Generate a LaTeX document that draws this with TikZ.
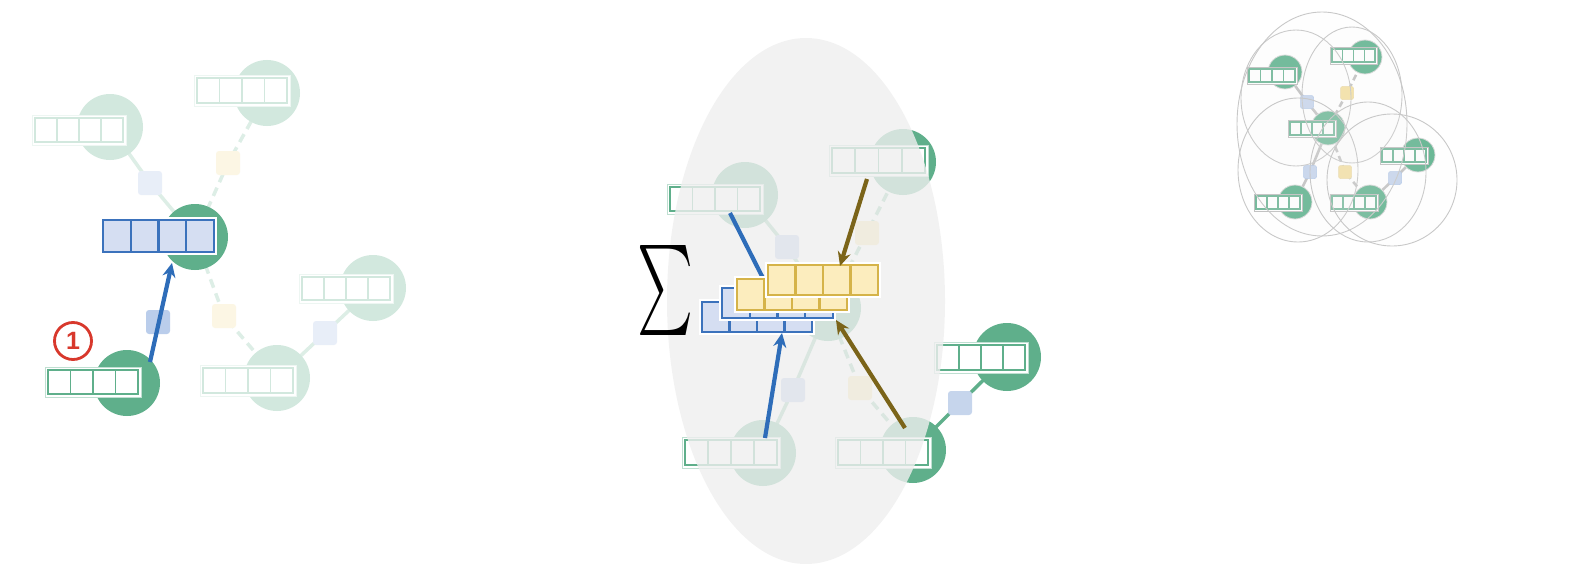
\documentclass[tikz,border=0pt]{standalone}
\usepackage{graphicx}
\usepackage{fontspec}
\newfontfamily\numfont{Liberation Sans}
\usetikzlibrary{arrows.meta}
\definecolor{gD}{HTML}{5FAF8B}
\definecolor{gR}{HTML}{62B490}
\definecolor{eG}{HTML}{86C2A6}
\definecolor{eR}{HTML}{C2C2C2}
\definecolor{bB}{HTML}{3B72BC}
\definecolor{bF}{HTML}{D5DEF2}
\definecolor{bA}{HTML}{2E6DB9}
\definecolor{yB}{HTML}{D5B349}
\definecolor{yF}{HTML}{FCEDBE}
\definecolor{brA}{HTML}{7B6419}
\definecolor{rd}{HTML}{D8382C}
\definecolor{sqB}{HTML}{AFC5E8}
\definecolor{sqBl}{HTML}{C6D5EC}
\definecolor{sqY}{HTML}{F6E2A0}
\definecolor{ellF}{HTML}{EFEFEF}
\definecolor{ellL}{HTML}{C8C8C8}

\newcommand{\vecbar}[7]{%
  \draw[#5] (#1,#2) rectangle (#3,#4);
  \pgfmathsetmacro\vxa{#1+#7}%
  \pgfmathsetmacro\vxb{#3-#7}%
  \pgfmathsetmacro\vya{#2+#7}%
  \pgfmathsetmacro\vyb{#4-#7}%
  \pgfmathsetmacro\vw{(\vxb-\vxa)/4}%
  \foreach \k in {0,1,2,3}{\draw[#6] ({\vxa+\k*\vw},\vya) rectangle ({\vxa+(\k+1)*\vw},\vyb);}%
}

\begin{document}
\begin{tikzpicture}[x=1pt,y=-1pt,
  gc/.style={circle, fill=gD, inner sep=0pt, minimum size=66pt},
  gcs/.style={circle, fill=gR, draw=gray!30, line width=0.8pt, inner sep=0pt, minimum size=34pt},
  edgeS/.style={draw=eG, line width=3.5pt},
  edgeD/.style={draw=eG, line width=3.5pt, dash pattern=on 9pt off 6pt},
  redgeS/.style={draw=eR, line width=2.6pt},
  redgeD/.style={draw=eR, line width=2.6pt, dash pattern=on 6pt off 4pt},
  bsq/.style={rectangle, rounded corners=3pt, fill=sqB, minimum size=24pt, inner sep=0pt},
  ysq/.style={rectangle, rounded corners=3pt, fill=sqY, minimum size=24pt, inner sep=0pt},
  rbsq/.style={rectangle, rounded corners=2pt, fill=sqBl, draw=sqB, line width=0.5pt, minimum size=13pt, inner sep=0pt},
  rysq/.style={rectangle, rounded corners=2pt, fill=sqY, draw=yB!50, line width=0.5pt, minimum size=13pt, inner sep=0pt},
  gframe/.style={fill=white, draw=gD!40, line width=0.8pt},
  wframe/.style={fill=white, draw=none},
  rframe/.style={fill=white, draw=gray!50, line width=0.8pt},
  gcell/.style={draw=gD, line width=1.8pt, fill=white},
  rcell/.style={draw=gD!90, line width=1.1pt, fill=white},
  bcell/.style={draw=bB, line width=2.2pt, fill=bF},
  ycell/.style={draw=yB, line width=2.1pt, fill=yF},
  barrow/.style={draw=bA, line width=4.2pt, -{Stealth[length=14pt,width=13pt]}},
  brarrow/.style={draw=brA, line width=4.2pt, -{Stealth[length=14pt,width=13pt]}},
  rellipse/.style={draw=ellL, line width=0.9pt, fill=ellF, fill opacity=0.07}
]
\useasboundingbox (0,0) rectangle (1572,578);

%================ LEFT PANEL =================
\coordinate (L0) at (127,383);
\coordinate (L1) at (195,237);
\coordinate (L2) at (110,127);
\coordinate (L3) at (267,93);
\coordinate (L4) at (373,288);
\coordinate (L5) at (277,378);
\coordinate (Ls2) at (150,183);
\coordinate (Ls3) at (228,163);
\coordinate (Ls5) at (224,316);
\coordinate (Ls45) at (325,333);
\coordinate (Ls0) at (158,322);

\draw[edgeS] (L1) -- (Ls2) -- (L2);
\draw[edgeD] (L1) -- (Ls3) -- (L3);
\draw[edgeD] (L1) -- (Ls5) -- (L5);
\draw[edgeS] (L5) -- (Ls45) -- (L4);
\node[bsq] (Lq2) at (Ls2) {};
\node[ysq] (Lq3) at (Ls3) {};
\node[ysq] (Lq5) at (Ls5) {};
\node[bsq] (Lq45) at (Ls45) {};

\node[gc] (L2c) at (L2) {};
\node[gc] (L3c) at (L3) {};
\node[gc] (L4c) at (L4) {};
\node[gc] (L5c) at (L5) {};
\vecbar{32}{115}{126}{145}{gframe}{gcell}{3}
\vecbar{194}{75}{290}{106}{gframe}{gcell}{3}
\vecbar{299}{274}{393}{303}{gframe}{gcell}{3}
\vecbar{200}{365}{296}{396}{gframe}{gcell}{3}

% fading veil
\fill[white, opacity=0.72] (15,45) rectangle (440,430);

% bright items
\node[gc] (L1c) at (L1) {};
\node[gc] (L0c) at (L0) {};
\vecbar{100}{217}{217}{255}{wframe}{bcell}{3}
\vecbar{45}{367}{141}{397}{gframe}{gcell}{3}
\node[bsq, opacity=0.85] (Lq0) at (Ls0) {};
\coordinate (La0) at (150,362);
\coordinate (La1) at (172,263);
\draw[barrow] (La0) -- (La1);
\node[circle, draw=rd, line width=2.8pt, minimum size=37pt, inner sep=0pt, text=rd,
  font=\numfont\bfseries\fontsize{25}{25}\selectfont] (one) at (73,341) {1};

%================ MIDDLE PANEL =================
\coordinate (M0) at (828,308);
\coordinate (M1) at (745,195);
\coordinate (M2) at (903,162);
\coordinate (M3) at (763,453);
\coordinate (M4) at (913,450);
\coordinate (M5) at (1007,357);
\coordinate (Ms1) at (787,247);
\coordinate (Ms2) at (867,233);
\coordinate (Ms3) at (793,390);
\coordinate (Ms4) at (860,388);
\coordinate (Ms5) at (960,403);

\draw[edgeS] (M0) -- (Ms1) -- (M1);
\draw[edgeD] (M0) -- (Ms2) -- (M2);
\draw[edgeS] (M0) -- (Ms3) -- (M3);
\draw[edgeD] (M0) -- (Ms4) -- (M4);
\draw[edgeS, draw=gD] (M4) -- (Ms5) -- (M5);
\node[bsq] (Mq1) at (Ms1) {};
\node[ysq] (Mq2) at (Ms2) {};
\node[bsq] (Mq3) at (Ms3) {};
\node[ysq] (Mq4) at (Ms4) {};
\node[bsq, fill=sqBl] (Mq5) at (Ms5) {};

\node[gc] (M0c) at (M0) {};
\node[gc] (M1c) at (M1) {};
\node[gc] (M2c) at (M2) {};
\node[gc] (M3c) at (M3) {};
\node[gc] (M4c) at (M4) {};
\node[gc, minimum size=68pt] (M5c) at (M5) {};
\vecbar{667}{184}{763}{214}{gframe}{gcell}{3}
\vecbar{829}{145}{928}{176}{gframe}{gcell}{3}
\vecbar{682}{437}{780}{468}{gframe}{gcell}{3}
\vecbar{835}{437}{931}{468}{gframe}{gcell}{3}
\vecbar{934}{342}{1028}{373}{gframe}{gcell}{3}

% receptive field veil
\fill[ellF, fill opacity=0.8] (806,301) ellipse [x radius=139pt, y radius=263pt];

% aggregated messages
\vecbar{699}{299}{815}{335}{wframe}{bcell}{3}
\vecbar{719}{285}{836}{321}{wframe}{bcell}{3}
\coordinate (Mb1s) at (730,213);
\coordinate (Mb1e) at (770,292);
\draw[barrow] (Mb1s) -- (Mb1e);
\vecbar{734}{276}{850}{313}{wframe}{ycell}{3}
\vecbar{765}{262}{881}{298}{wframe}{ycell}{3}

\coordinate (Mb2s) at (765,438);
\coordinate (Mb2e) at (782,333);
\draw[barrow] (Mb2s) -- (Mb2e);
\coordinate (Mr1s) at (867,179);
\coordinate (Mr1e) at (840,266);
\draw[brarrow] (Mr1s) -- (Mr1e);
\coordinate (Mr2s) at (905,428);
\coordinate (Mr2e) at (836,320);
\draw[brarrow] (Mr2s) -- (Mr2e);

\node[inner sep=0pt] (sig) at (665,290) {\resizebox*{56pt}{90pt}{$\sum$}};

%================ RIGHT PANEL =================
\coordinate (RA) at (1285,72);
\coordinate (RB) at (1365,57);
\coordinate (RC) at (1328,128);
\coordinate (RD) at (1418,155);
\coordinate (RE) at (1295,202);
\coordinate (RF) at (1370,202);
\coordinate (RsAC) at (1307,102);
\coordinate (RsBC) at (1347,93);
\coordinate (RsCE) at (1310,172);
\coordinate (RsCF) at (1345,172);
\coordinate (RsFD) at (1395,178);

\draw[redgeS] (RA) -- (RsAC) -- (RC);
\draw[redgeD] (RB) -- (RsBC) -- (RC);
\draw[redgeS] (RC) -- (RsCE) -- (RE);
\draw[redgeD] (RC) -- (RsCF) -- (RF);
\draw[redgeS] (RF) -- (RsFD) -- (RD);
\node[rbsq] (RqAC) at (RsAC) {};
\node[rysq] (RqBC) at (RsBC) {};
\node[rbsq] (RqCE) at (RsCE) {};
\node[rysq] (RqCF) at (RsCF) {};
\node[rbsq] (RqFD) at (RsFD) {};

\node[gcs] (RAc) at (RA) {};
\node[gcs] (RBc) at (RB) {};
\node[gcs] (RCc) at (RC) {};
\node[gcs] (RDc) at (RD) {};
\node[gcs] (REc) at (RE) {};
\node[gcs] (RFc) at (RF) {};
\vecbar{1247}{67}{1297}{84}{rframe}{rcell}{2}
\vecbar{1330}{47}{1377}{64}{rframe}{rcell}{2}
\vecbar{1288}{120}{1336}{137}{rframe}{rcell}{2}
\vecbar{1380}{147}{1428}{164}{rframe}{rcell}{2}
\vecbar{1254}{194}{1302}{211}{rframe}{rcell}{2}
\vecbar{1330}{194}{1378}{211}{rframe}{rcell}{2}

\draw[rellipse] (1296,98) ellipse [x radius=55pt, y radius=68pt];
\draw[rellipse] (1352,95) ellipse [x radius=50pt, y radius=68pt];
\draw[rellipse] (1322,124) ellipse [x radius=85pt, y radius=112pt];
\draw[rellipse] (1298,170) ellipse [x radius=60pt, y radius=72pt];
\draw[rellipse] (1368,172) ellipse [x radius=58pt, y radius=70pt];
\draw[rellipse] (1392,180) ellipse [x radius=65pt, y radius=66pt];
\end{tikzpicture}
\end{document}
